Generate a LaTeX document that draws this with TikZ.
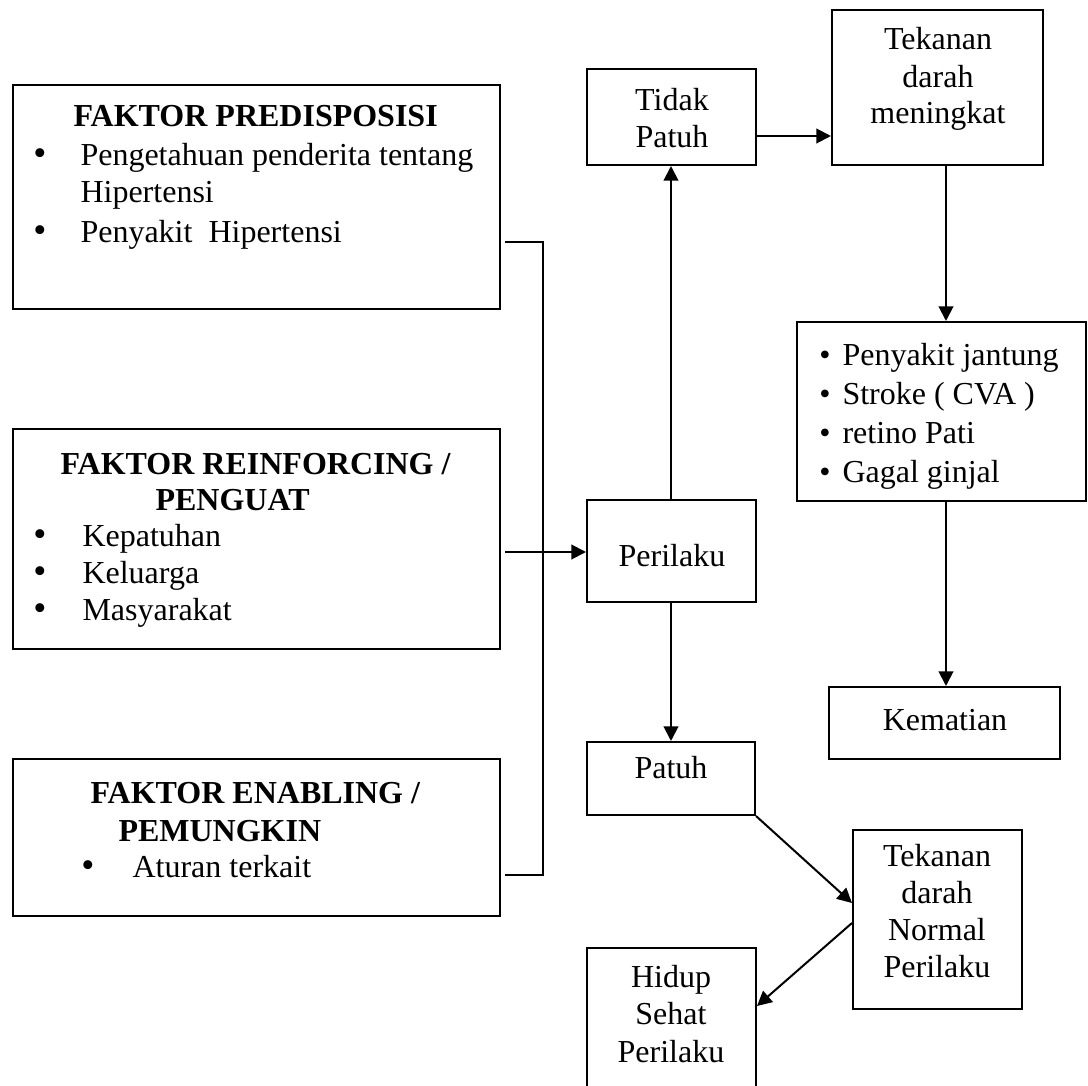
\documentclass[tikz,border=0pt]{standalone}
\usepackage{fontspec}
\setmainfont{Liberation Serif}
\usetikzlibrary{arrows.meta,fit}
\tikzset{box/.style={draw, line width=0.75pt, inner sep=0pt},
  ln/.style={anchor=base, inner sep=0pt, font=\fontsize{12}{14}\selectfont},
  lnw/.style={ln, anchor=base west},
  hd/.style={lnw, font=\fontsize{12}{14}\selectfont\bfseries},
  dot/.style={ln, font=\fontsize{14}{14}\selectfont},
  pin/.style={-{Triangle[length=5.5pt, width=5.5pt]}, line width=0.75pt},
  wire/.style={line width=0.75pt}}

\begin{document}
\begin{tikzpicture}[x=0.375pt, y=-0.375pt]
  \useasboundingbox (0,0) rectangle (1088,1086);
  \clip (0,0) rectangle (1088,1086);
  % factor boxes on the left
  \node[box, fit={(13,85) (500,309)}] (pre) {};
  \node[box, fit={(13,429) (500,649)}] (rei) {};
  \node[box, fit={(13,759) (500,916)}] (ena) {};
  % flow boxes
  \node[box, fit={(587,69) (756,165)}] (tdk) {};
  \node[box, fit={(832,10) (1043,165)}] (tkm) {};
  \node[box, fit={(587,500) (756,602)}] (per) {};
  \node[box, fit={(797,322) (1086,501)}] (dis) {};
  \node[box, fit={(829,687) (1060,759)}] (kem) {};
  \node[box, fit={(587,742) (755,815)}] (pth) {};
  \node[box, fit={(853,830) (1022,1009)}] (nor) {};
  \node[box, fit={(587,948) (756,1130)}] (hid) {};

  % texts of the predisposing box
  \node[hd] (preh) at (73,126) {FAKTOR PREDISPOSISI};
  \node[dot] (pre1) at (40,165) {•};
  \node[lnw] (pret1) at (80,165) {Pengetahuan penderita tentang};
  \node[lnw] (pret2) at (80,202) {Hipertensi};
  \node[dot] (pre2) at (40,242) {•};
  \node[lnw] (pret3) at (80,242) {Penyakit\ \ Hipertensi};
  % texts of the reinforcing box
  \node[hd] (reih1) at (60,474) {FAKTOR REINFORCING /};
  \node[hd] (reih2) at (155,510) {PENGUAT};
  \foreach \t/\y in {Kepatuhan/546, Keluarga/583, Masyarakat/620} {
    \node[dot] (reid\y) at (40,\y) {•};
    \node[lnw] (reit\y) at (82,\y) {\t};
  }
  % texts of the enabling box
  \node[hd] (enah1) at (90,803) {FAKTOR ENABLING /};
  \node[hd] (enah2) at (118,841) {PEMUNGKIN};
  \node[dot] (ena1) at (88,877) {•};
  \node[lnw] (enat1) at (132,877) {Aturan terkait};

  % texts of the flow boxes
  \node[ln] (tdk1) at (672,110) {Tidak};
  \node[ln] (tdk2) at (672,147) {Patuh};
  \foreach \t/\y in {Tekanan/49, darah/87, meningkat/123}
    \node[ln] (tkm\y) at (938,\y) {\t};
  \foreach \t/\y in {Penyakit jantung/365, Stroke ( CVA )/404, retino Pati/443, Gagal ginjal/482} {
    \node[ln] (disd\y) at (825,\y) {•};
    \node[lnw] (dist\y) at (842,\y) {\t};
  }
  \node[ln] (per1) at (672,566) {Perilaku};
  \node[ln] (pth1) at (671,778) {Patuh};
  \node[ln] (kem1) at (945,730) {Kematian};
  \foreach \t/\y in {Tekanan/866, darah/903, Normal/940, Perilaku/977}
    \node[ln] (nor\y) at (937,\y) {\t};
  \foreach \t/\y in {Hidup/987, Sehat/1024, Perilaku/1062}
    \node[ln] (hid\y) at (671,\y) {\t};

  % helper points for the connectors
  \coordinate (bt) at (505,242);
  \coordinate (bb) at (505,875);
  \coordinate (bx) at (543,0);
  \coordinate (ba) at (505,552);
  \coordinate (r1) at (0,136);
  \coordinate (c2) at (946,0);
  \coordinate (c3) at (671,0);
  \coordinate (r4) at (0,903);
  \coordinate (r5) at (0,923);
  \coordinate (r6) at (0,1006);

  % bracket joining the three factors
  \draw[wire] (bt) -| (bx |- bb) -- (bb);
  \draw[pin] (ba) -- (per.west |- ba);
  % behaviour branches
  \draw[pin] (per.north -| c3) -- (tdk.south -| c3);
  \draw[pin] (per.south -| c3) -- (pth.north -| c3);
  \draw[pin] (tdk.east |- r1) -- (tkm.west |- r1);
  \draw[pin] (tkm.south -| c2) -- (dis.north -| c2);
  \draw[pin] (dis.south -| c2) -- (kem.north -| c2);
  \draw[pin] (pth.south east) -- (nor.west |- r4);
  \draw[pin] (nor.west |- r5) -- (hid.east |- r6);
\end{tikzpicture}
\end{document}
